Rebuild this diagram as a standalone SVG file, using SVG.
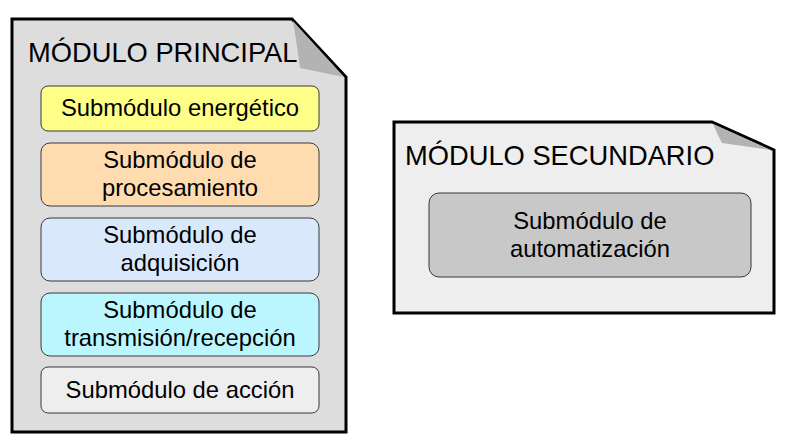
<svg xmlns="http://www.w3.org/2000/svg" width="785" height="443" viewBox="0 0 785 443">
<style>
.mod{stroke:#000;stroke-width:3;stroke-linejoin:miter}
.fold{fill:#b3b3b3;stroke:none}
.sub{stroke:#36393d;stroke-width:1}
text{font-family:"Liberation Sans",Arial,sans-serif;fill:#000}
.t{font-size:27.3px}
.s{font-size:23.8px;text-anchor:middle}
</style>
<rect width="785" height="443" fill="#fff"/>
<g id="modulo-principal">
<path class="mod" fill="#dddddd" d="M12,19 H292 L346,77 V432 H12 Z"/>
<path class="fold" d="M293,21 Q297,45 300,68 L344,77 Z"/>
<text class="t" x="28" y="62">MÓDULO PRINCIPAL</text>
</g>
<g id="sub-energetico">
<rect class="sub" x="41" y="86" width="278" height="45" rx="7" fill="#ffff88"/>
<text class="s" x="180" y="116">Submódulo energético</text>
</g>
<g id="sub-procesamiento">
<rect class="sub" x="41" y="143" width="278" height="63" rx="9" fill="#ffdcb0"/>
<text class="s" x="180" y="168">Submódulo de</text>
<text class="s" x="180" y="196">procesamiento</text>
</g>
<g id="sub-adquisicion">
<rect class="sub" x="41" y="218" width="278" height="63" rx="9" fill="#dae8fc"/>
<text class="s" x="180" y="243">Submódulo de</text>
<text class="s" x="180" y="271">adquisición</text>
</g>
<g id="sub-transmision">
<rect class="sub" x="41" y="293" width="278" height="63" rx="9" fill="#bbf6ff"/>
<text class="s" x="180" y="318">Submódulo de</text>
<text class="s" x="180" y="346">transmisión/recepción</text>
</g>
<g id="sub-accion">
<rect class="sub" x="41" y="367" width="278" height="46" rx="7" fill="#eeeeee"/>
<text class="s" x="180" y="398">Submódulo de acción</text>
</g>
<g id="modulo-secundario">
<path class="mod" fill="#eeeeee" d="M394,122 H712 L774,150 V313 H394 Z"/>
<path class="fold" d="M713,124 Q717,134 722,143 L771,150 Z"/>
<text class="t" x="405" y="165">MÓDULO SECUNDARIO</text>
</g>
<g id="sub-automatizacion">
<rect class="sub" x="429" y="193" width="322" height="84" rx="10" fill="#c8c8c8"/>
<text class="s" x="590" y="229">Submódulo de</text>
<text class="s" x="590" y="257">automatización</text>
</g>
<g id="connectors"></g>
</svg>
